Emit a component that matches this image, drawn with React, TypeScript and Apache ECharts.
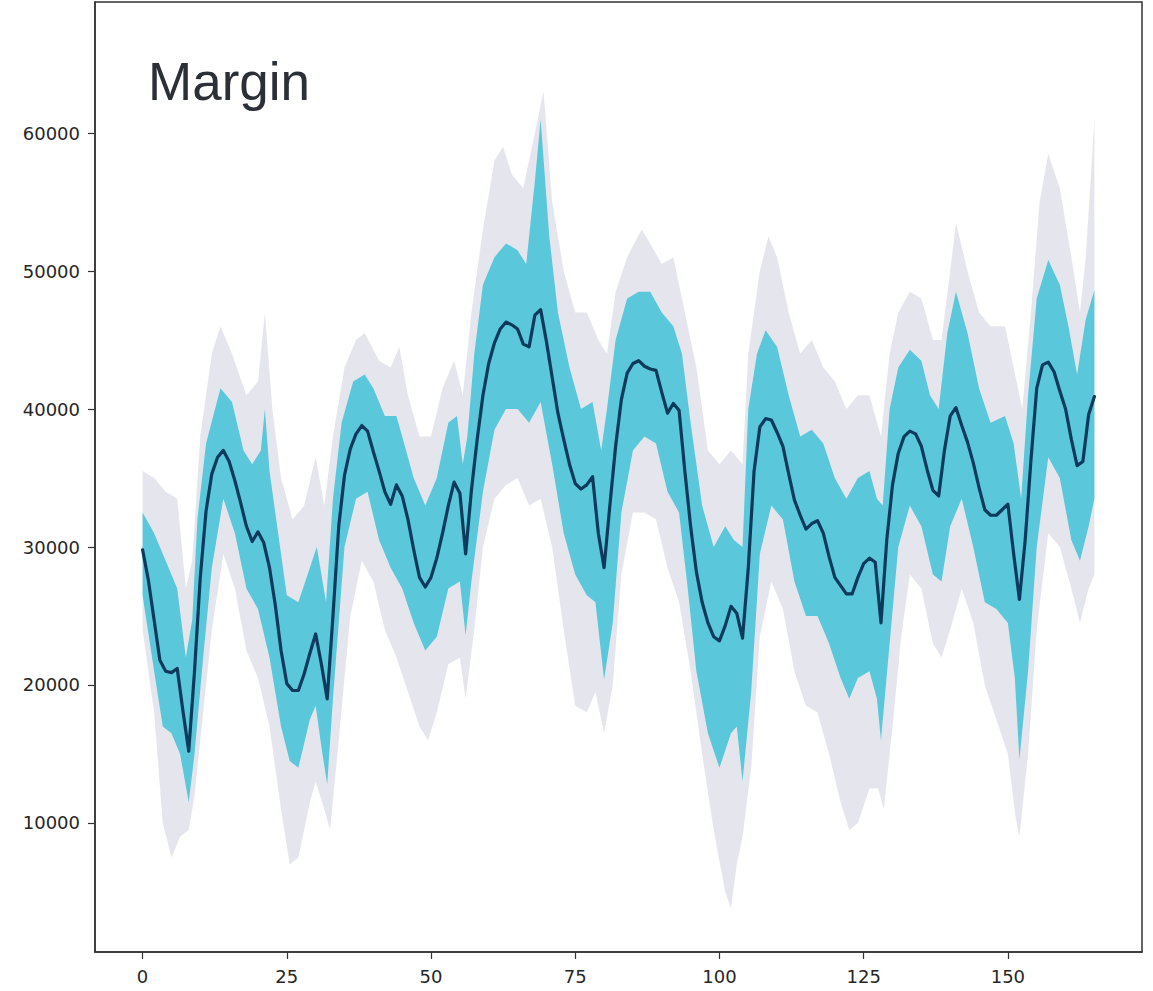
import React, { useEffect, useRef } from "react";
import * as echarts from "echarts";

// Mean margin path (index 0..165)
const meanValues: number[] = [
  29800, 27600, 24700, 21800, 21000, 20900, 21200, 18100, 15200, 21000,
  27800, 32600, 35300, 36500, 37000, 36200, 34800, 33200, 31500, 30400,
  31100, 30300, 28500, 25800, 22500, 20100, 19600, 19600, 20800, 22300,
  23700, 21500, 19000, 25000, 31500, 35200, 37100, 38200, 38800, 38400,
  36900, 35500, 34000, 33100, 34500, 33700, 32000, 29800, 27800, 27100,
  27800, 29200, 31000, 33000, 34700, 33900, 29500, 34100, 37800, 41000,
  43300, 44800, 45800, 46300, 46100, 45800, 44700, 44500, 46800, 47200,
  44900, 42300, 39700, 37800, 36000, 34600, 34200, 34500, 35100, 31000,
  28500, 33000, 37300, 40700, 42600, 43300, 43500, 43100, 42900, 42800,
  41200, 39700, 40400, 39900, 35500, 31500, 28200, 26000, 24500, 23500,
  23200, 24300, 25700, 25200, 23400, 28500, 35500, 38700, 39300, 39200,
  38300, 37300, 35300, 33400, 32300, 31300, 31700, 31900, 31000, 29300,
  27800, 27200, 26600, 26600, 27800, 28800, 29200, 28900, 24500, 30500,
  34500, 36800, 38000, 38400, 38200, 37300, 35600, 34100, 33700, 37000,
  39500, 40100, 38800, 37600, 36100, 34300, 32700, 32300, 32300, 32700,
  33100, 29500, 26200, 30500, 36300, 41500, 43200, 43400, 42700, 41300,
  40000, 37800, 35900, 36200, 39600, 40900,
];

// Cyan band (central bulk of simulations): upper and lower edges [index, value]
const cyanUpper: [number, number][] = [
  [0, 32500], [2, 31000], [4, 29000], [6, 27000], [7.5, 22000], [8.6, 24700],
  [9.5, 32000], [11, 37500], [13.5, 41500], [15.5, 40500], [17.5, 37000], [19, 36000],
  [20.5, 37000], [21.2, 40000], [22, 35500], [23.5, 31000], [25, 26500], [27, 26000],
  [29, 28500], [30.2, 30000], [31, 28000], [31.8, 26000], [33, 33500], [34.5, 39000],
  [36.5, 42000], [38.5, 42500], [40, 41500], [42, 39500], [44, 39500], [45, 38000],
  [47, 35000], [49, 33000], [51, 35000], [53, 39000], [54.5, 39500], [55.5, 36000],
  [56.3, 38000], [57.5, 44000], [59, 49000], [61, 51000], [63, 52000], [65, 51500],
  [66.5, 50500], [68, 56500], [69, 61000], [70.5, 52500], [72, 47000], [74, 43000],
  [76, 40000], [78, 40500], [79.5, 37000], [80.5, 40000], [82, 45000], [84, 48000],
  [86, 48500], [88, 48500], [90, 47000], [92, 46000], [93.5, 44000], [95, 39000],
  [97, 33000], [99, 30000], [101, 31500], [102.5, 30500], [104, 30000], [105, 40000],
  [106.5, 44000], [108, 45700], [110, 44500], [112, 41000], [114, 38000], [116, 38500],
  [118, 37500], [120, 35000], [122, 33500], [124, 35000], [126, 35500], [127.3, 33500],
  [128.3, 33000], [129.5, 40000], [131, 43000], [133, 44300], [135, 43500], [136.5, 41000],
  [138, 40000], [139.5, 45500], [141, 48500], [143, 45500], [145, 41500], [147, 39000],
  [149.5, 39500], [151, 37500], [152.3, 33500], [153.5, 41000], [155, 48000], [157, 50800],
  [159, 49000], [160.5, 46000], [162, 42500], [163.5, 46500], [165, 48600],
];
const cyanLower: [number, number][] = [
  [0, 26500], [2, 21000], [3.5, 17000], [5, 16500], [6.5, 15000], [8, 11500],
  [9, 15000], [10.5, 22000], [12, 28500], [14, 33500], [16, 31000], [18, 27000],
  [20, 25500], [22, 22000], [24, 17000], [25.5, 14500], [27, 14000], [29, 17500],
  [30, 18500], [31, 15500], [32, 12800], [33, 19000], [35, 30000], [37, 33500],
  [39, 34000], [41, 30500], [43, 28500], [45, 27000], [47, 24500], [49, 22500],
  [51, 23500], [53, 27000], [55, 27500], [56, 23600], [57, 27500], [59, 34000],
  [61, 38500], [63, 40000], [65, 40000], [67, 39000], [69, 40500], [71, 36000],
  [73, 31000], [75, 28000], [77, 26500], [78.5, 26000], [80, 20400], [81.5, 24500],
  [83, 32500], [85, 37000], [87, 38000], [89, 37500], [91, 34000], [93, 32500],
  [94.5, 27000], [96, 21000], [98, 16500], [100, 14000], [102, 16500], [103, 17000],
  [104, 13000], [105.5, 19500], [107, 29500], [109, 33000], [111, 32000], [113, 27500],
  [115, 25000], [117, 25000], [119, 23000], [121, 20500], [122.5, 19000], [124, 20500],
  [126, 21000], [127.3, 19000], [128, 16000], [129.5, 23000], [131, 30000], [133, 33000],
  [135, 31500], [137, 28000], [138.5, 27500], [140, 31500], [142, 33500], [144, 30000],
  [146, 26000], [148, 25500], [150, 24500], [151.2, 20500], [152, 14600], [153.5, 21000],
  [155, 30000], [157, 36500], [159, 35000], [161, 30500], [162.5, 29000], [164, 31500],
  [165, 33500],
];

// Grey envelope (all simulated paths)
const greyUpper: [number, number][] = [
  [0, 35500], [2, 35000], [4, 34000], [6, 33500], [7.5, 27000], [8.6, 29000],
  [10, 38000], [12, 44000], [13.5, 46000], [15.5, 44000], [18, 41000], [20, 42000],
  [21.2, 47000], [22.5, 40000], [24, 35000], [26, 32000], [28, 33000], [30, 36500],
  [31.5, 33000], [33, 38000], [35, 43000], [37, 45000], [38.5, 45500], [41, 43500],
  [43, 43000], [44.5, 44500], [46, 41000], [48, 38000], [50, 38000], [52, 41500],
  [54, 43500], [55.5, 41000], [57, 47000], [59, 53000], [61, 58000], [62.5, 59000],
  [64, 57000], [66, 56000], [68, 60000], [69.5, 63000], [71, 55000], [73, 50000],
  [75, 47000], [77, 47000], [79, 45000], [80.5, 44000], [82, 48500], [84, 51000],
  [86.5, 53000], [88, 52000], [90, 50500], [92, 51000], [94, 47000], [96, 43000],
  [98, 37000], [100, 36000], [102, 37000], [104, 36000], [105, 44000], [107, 50000],
  [108.5, 52500], [110, 51000], [112, 47000], [114, 44000], [116, 45000], [118, 43000],
  [120, 42000], [122, 40000], [124, 41000], [126, 41000], [128, 38000], [129.5, 44000],
  [131, 47000], [133, 48500], [135, 48000], [137, 45000], [138.5, 45000], [140, 50000],
  [141, 53500], [143, 50000], [145, 47000], [147, 46000], [149.5, 46000], [151, 43000],
  [152.5, 40000], [154, 47000], [155.5, 55000], [157, 58500], [159, 56000], [161, 51000],
  [162.5, 47000], [163.5, 51000], [165, 61000],
];
const greyLower: [number, number][] = [
  [0, 24000], [2, 18000], [3.5, 10000], [5, 7500], [6.5, 9000], [8, 9500],
  [9, 12000], [10.5, 18000], [12, 24000], [14, 29500], [16, 27000], [18, 22500],
  [20, 20500], [22, 17000], [24, 11000], [25.5, 7000], [27, 7500], [29, 11500],
  [30, 13000], [31.5, 11000], [32.5, 9500], [34, 16000], [36, 25000], [38, 29000],
  [40, 27500], [42, 24000], [44, 22000], [46, 19500], [48, 17000], [49.5, 16000],
  [51, 18000], [53, 21500], [55, 22000], [56, 19000], [57.5, 24000], [59, 30000],
  [61, 33500], [63, 34500], [65, 35000], [67, 33000], [69, 33500], [71, 30000],
  [73, 24000], [75, 18500], [77, 18000], [78.5, 19500], [80, 16500], [81.5, 20000],
  [83, 28000], [85, 32500], [87, 32500], [89, 32000], [91, 28500], [93, 26000],
  [95, 21000], [97, 15000], [99, 9500], [101, 5000], [102, 3800], [103, 7000],
  [104, 9000], [105.5, 14000], [107, 23500], [109, 27500], [111, 25500], [113, 21000],
  [115, 18500], [117, 18000], [119, 15000], [121, 11500], [122.5, 9500], [124, 10000],
  [126, 12500], [127.5, 12500], [128.5, 11000], [130, 17000], [131.5, 23500], [133, 28000],
  [135, 27000], [137, 23000], [138.5, 22000], [140, 24000], [142, 27000], [144, 24500],
  [146, 20000], [148, 17500], [150, 15000], [151.3, 10500], [152, 9000], [153.5, 15000],
  [155, 24000], [157, 31000], [159, 30000], [161, 27000], [162.5, 24500], [164, 27000],
  [165, 28000],
];

const xTicks = [0, 25, 50, 75, 100, 125, 150];
const yTicks = [10000, 20000, 30000, 40000, 50000, 60000];
const chartTitle = "Margin";

function bandSeries(upper: [number, number][], lower: [number, number][], fill: string, z: number) {
  return {
    type: "custom",
    z,
    silent: true,
    data: [[0, 0]],
    renderItem: (_params: any, api: any) => {
      const pts: number[][] = [];
      upper.forEach((p) => pts.push(api.coord(p)));
      for (let k = lower.length - 1; k >= 0; k--) pts.push(api.coord(lower[k]));
      return { type: "polygon", shape: { points: pts }, style: { fill, stroke: "none" } };
    },
  };
}

export default function App() {
  const ref = useRef<HTMLDivElement>(null);
  useEffect(() => {
    if (!ref.current) return;
    const chart = echarts.init(ref.current, undefined, { renderer: "svg" });
    const axisColor = "#333";
    const labelStyle = { margin: 15, fontSize: 18, fontFamily: "DejaVu Sans", color: "#262626", formatter: (v: number) => String(v) };
    chart.setOption({
      animation: false,
      backgroundColor: "#fff",
      grid: {
        left: 95, top: 2, right: 11, bottom: 39,
        show: true, borderColor: axisColor, borderWidth: 1.5,
        containLabel: false, outerBoundsMode: "none",
      },
      xAxis: {
        type: "value", min: -8.25, max: 173.25,
        axisLine: { show: true, onZero: false, lineStyle: { color: axisColor, width: 1.5 } },
        axisTick: { show: true, length: 7, customValues: xTicks, lineStyle: { color: axisColor, width: 1.2 } },
        axisLabel: { ...labelStyle, customValues: xTicks },
        splitLine: { show: false },
      },
      yAxis: {
        type: "value", min: 652, max: 69493,
        axisLine: { show: true, onZero: false, lineStyle: { color: axisColor, width: 1.5 } },
        axisTick: { show: true, length: 7, customValues: yTicks, lineStyle: { color: axisColor, width: 1.2 } },
        axisLabel: { ...labelStyle, customValues: yTicks },
        splitLine: { show: false },
      },
      graphic: [
        {
          type: "text", left: 148, top: 55, z: 100,
          style: { text: chartTitle, fill: "#2b2f36", fontSize: 53, fontFamily: "Liberation Sans, Arial, sans-serif" },
        },
      ],
      series: [
        bandSeries(greyUpper, greyLower, "rgba(190,190,210,0.4)", 1),
        bandSeries(cyanUpper, cyanLower, "#5bc7da", 2),
        {
          type: "line", z: 5,
          data: meanValues.map((v, i) => [i, v]),
          showSymbol: false, symbol: "none",
          lineStyle: { color: "#0c3a5d", width: 3.2, join: "round", cap: "round" },
          silent: true,
        },
      ],
    });
    return () => chart.dispose();
  }, []);
  return <div ref={ref} style={{ position: "absolute", left: 0, top: 0, width: 1153, height: 991 }} />;
}
